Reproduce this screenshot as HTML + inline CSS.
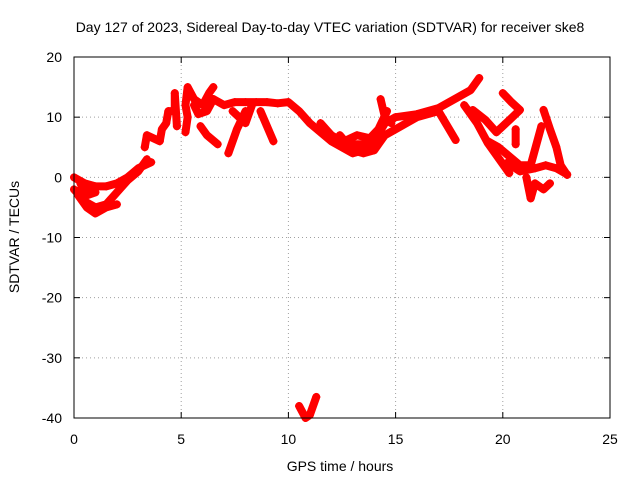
<!DOCTYPE html>
<html><head><meta charset="utf-8"><style>
body{margin:0;background:#fff}
svg{display:block;font-family:"Liberation Sans",sans-serif}
</style></head><body>
<svg id="chart" width="640" height="480" viewBox="0 0 640 480">
<rect width="640" height="480" fill="#fff"/>
<text x="330" y="32" font-size="14" text-anchor="middle">Day 127 of 2023, Sidereal Day-to-day VTEC variation (SDTVAR) for receiver ske8</text>
<g id="grid"></g>
<g id="ticks"></g>
<g id="series"></g>
<rect x="74" y="57" width="536" height="361" fill="none" stroke="#000" stroke-width="1"/>
<text x="340" y="471" font-size="14" text-anchor="middle">GPS time / hours</text>
<text transform="translate(19,237) rotate(-90)" font-size="14" text-anchor="middle">SDTVAR / TECUs</text>
</svg>
<script>
const xTicks=[0,5,10,15,20,25];
const yTicks=[20,10,0,-10,-20,-30,-40];
const trackA=[[0,0],[0.5,-1],[1,-1.5],[1.5,-1.5],[2,-1],[2.5,0],[3,1.5],[3.6,2.5]];
const trackB=[[0,-2],[0.5,-4],[1,-5],[1.5,-4.5],[2,-2.5],[2.5,-0.5],[3,1],[3.4,3]];
const trackC=[[0.2,-3],[0.6,-5],[1,-6],[1.5,-5],[2,-4.5]];
const trackC2=[[0.3,-1],[0.6,-3],[1,-2.5],[0.7,-1.5],[0.3,-2]];
const trackD=[[3.3,5],[3.4,7],[4,6],[4.1,8],[4.3,9],[4.4,11],[4.7,11],[4.7,14],[4.8,8.5]];
const trackE=[[5.2,7.5],[5.3,10],[5.2,12],[5.3,15],[5.6,13],[6,12],[6.3,14],[6.5,15]];
const trackF=[[5.6,12],[5.8,10.5],[6.2,11],[6.5,13]];
const trackF2=[[5.9,8.5],[6.2,7],[6.7,5.5]];
const trackG=[[6.5,13],[7,12],[7.5,12.5],[8,12.5],[8.5,12.5],[9,12.5],[9.5,12.3],[10,12.5],[10.5,11],[11,9],[11.5,7.5],[12,6],[12.5,5],[13,4],[13.5,4.5],[14,5]];
const trackH=[[8,11],[7.6,8],[7.2,4]];
const trackI=[[7.4,11],[8,9],[8.3,12]];
const trackI2=[[8.7,11],[9,8.5],[9.3,6]];
const trackJ=[[10.5,-38],[10.8,-40],[11,-39.5],[11.3,-36.5]];
const trackK=[[11.5,9],[12,7],[12.5,6],[13,5.5],[13.5,5.5],[14,6],[14.5,9],[15,10],[16,10.5],[17,11.5],[18,13.5],[18.5,14.5],[18.9,16.5]];
const trackL=[[12.4,7],[13,4.5],[13.5,4],[14,4.5],[14.5,7],[15,8],[16,10],[17,11],[17.8,6.2]];
const trackM=[[14.3,13],[14.5,10],[14.8,9]];
const trackM2=[[12.6,6],[13.2,7],[13.8,6.5],[14.2,8],[14.6,11]];
const trackN=[[18.2,12],[18.8,9],[19.3,5.7],[20.3,0.7]];
const trackO=[[18.6,11.2],[19.2,9.5],[19.7,7.5],[20.3,9.5],[20.8,11.2],[20.4,12.5],[20,14]];
const trackP=[[21.9,11.2],[22.2,8],[22.5,5],[22.7,2],[23,0.4]];
const trackQ=[[19.3,6],[19.8,5],[20.3,3.5],[20.8,2],[21.3,2],[21.8,8.5]];
const trackQ2=[[20.2,2.4],[20.8,1],[21.5,1.5],[22,2],[22.5,1.5],[23,0.5]];
const trackR=[[21.1,0],[21.3,-3.5],[21.5,-1],[21.9,-2],[22.2,-1]];
const trackS=[[20.6,8],[20.6,5.5]];
const tracks=[trackA,trackB,trackC,trackC2,trackD,trackE,trackF,trackF2,trackG,trackH,trackI,trackI2,trackJ,trackK,trackL,trackM,trackM2,trackN,trackO,trackP,trackQ,trackQ2,trackR,trackS];
const X=v=>74+v*(536/25), Y=v=>57+(20-v)*(361/60);
const NS="http://www.w3.org/2000/svg";
const grid=document.getElementById('grid'),ticks=document.getElementById('ticks'),ser=document.getElementById('series');
function mk(tag,at,parent){const e=document.createElementNS(NS,tag);for(const k in at)e.setAttribute(k,at[k]);parent.appendChild(e);return e;}
xTicks.forEach(t=>{
 const g=mk('line',{x1:X(t),x2:X(t),y1:57,y2:418,stroke:'#a0a0a0','stroke-dasharray':'1,3'},grid);
 
 
 const l=mk('text',{x:X(t),y:444,'font-size':14,'text-anchor':'middle'},ticks);l.textContent=t;
 
 
 mk('line',{x1:X(t),x2:X(t),y1:418,y2:412,stroke:'#000'},ticks);
 mk('line',{x1:X(t),x2:X(t),y1:57,y2:63,stroke:'#000'},ticks);
});
yTicks.forEach(t=>{
 const g=mk('line',{x1:74,x2:610,y1:Y(t),y2:Y(t),stroke:'#a0a0a0','stroke-dasharray':'1,3'},grid);
 
 
 const l=mk('text',{x:62,y:Y(t)+5,'font-size':14,'text-anchor':'end'},ticks);l.textContent=t;
 
 
 mk('line',{x1:74,x2:80,y1:Y(t),y2:Y(t),stroke:'#000'},ticks);
 mk('line',{x1:610,x2:604,y1:Y(t),y2:Y(t),stroke:'#000'},ticks);
});
tracks.forEach(tr=>{
 const p=mk('polyline',{points:tr.map(d=>X(d[0])+','+Y(d[1])).join(' '),fill:'none',stroke:'#ff0000','stroke-width':8,'stroke-linejoin':'round','stroke-linecap':'round'},ser);
 
 
 tr.forEach(d=>{
  const m=mk('path',{d:`M${X(d[0])-4},${Y(d[1])}h8M${X(d[0])},${Y(d[1])-4}v8`,stroke:'#ff0000','stroke-width':1.5},ser);
  
  
 });
});
</script>
</body></html>
